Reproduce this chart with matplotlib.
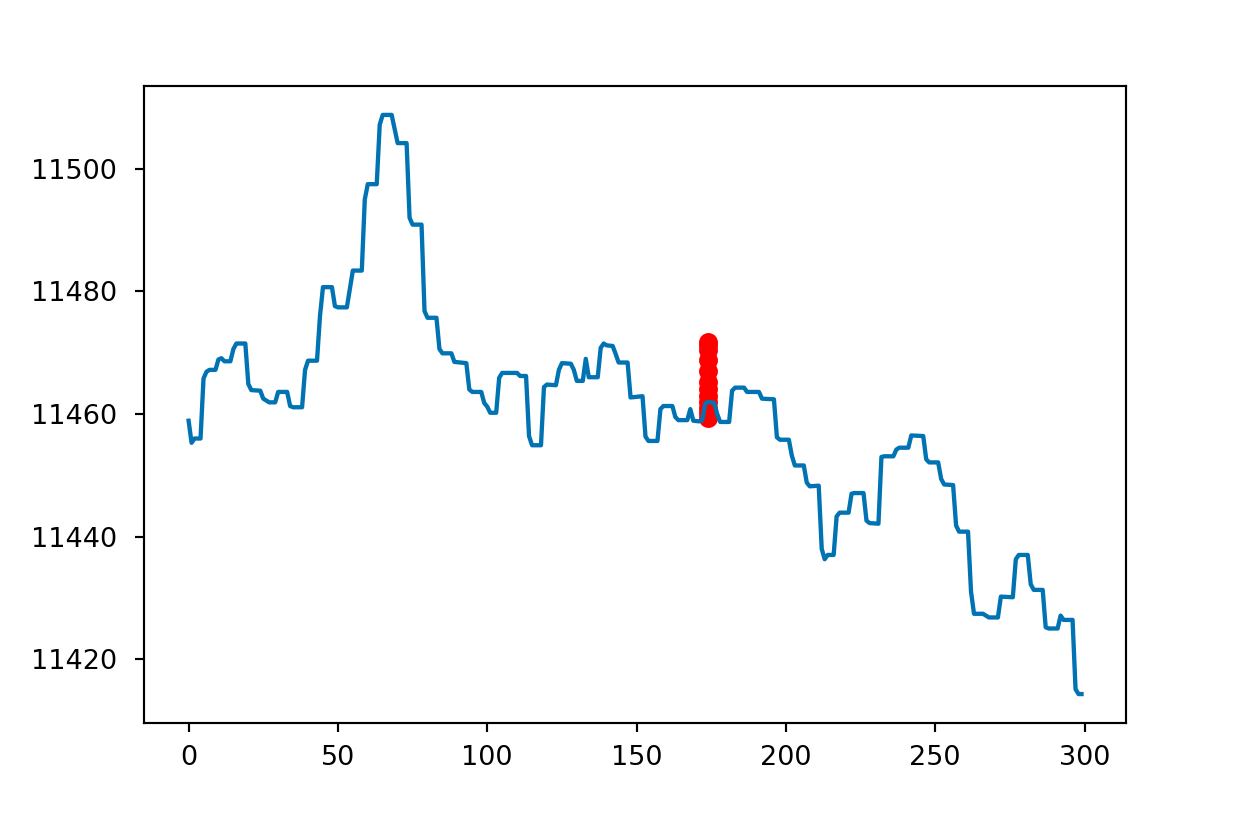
import matplotlib
matplotlib.use('Agg')
import matplotlib.pyplot as plt

# price path, vertices (index, value)
idx = [0, 1, 2, 4, 5, 6, 7, 9, 10, 11, 12, 14, 15, 16, 19, 20, 21, 24, 25, 27,
       29, 30, 33, 34, 35, 38, 39, 40, 43, 44, 45, 48, 49, 50, 53, 55, 58, 59, 60, 63,
       64, 65, 68, 70, 73, 74, 75, 78, 79, 80, 83, 84, 85, 88, 89, 93, 94, 95, 98, 99,
       100, 101, 103, 104, 105, 110, 111, 113, 114, 115, 118, 119, 120, 123, 124, 125, 128, 129, 130, 132,
       133, 134, 137, 138, 139, 140, 142, 143, 144, 147, 148, 152, 153, 154, 157, 158, 159, 162, 163, 164,
       167, 168, 169, 171, 172, 173, 174, 176, 177, 178, 181, 182, 183, 186, 187, 191, 192, 196, 197, 198,
       201, 202, 203, 206, 207, 208, 211, 212, 213, 214, 216, 217, 218, 221, 222, 223, 226, 227, 228, 231,
       232, 233, 236, 237, 238, 241, 242, 246, 247, 248, 251, 252, 253, 256, 257, 258, 261, 262, 263, 266,
       268, 271, 272, 276, 277, 278, 281, 282, 283, 286, 287, 288, 291, 292, 293, 296, 297, 298, 299]
price = [11458.9, 11455.3, 11456.0, 11456.0, 11465.8, 11466.9, 11467.2, 11467.2, 11468.9, 11469.1,
         11468.6, 11468.6, 11470.6, 11471.5, 11471.5, 11464.9, 11463.9, 11463.8, 11462.5, 11461.9,
         11461.9, 11463.6, 11463.6, 11461.3, 11461.1, 11461.1, 11467.2, 11468.7, 11468.7, 11476.0,
         11480.7, 11480.7, 11477.6, 11477.4, 11477.4, 11483.4, 11483.4, 11495.0, 11497.5, 11497.5,
         11507.2, 11508.8, 11508.8, 11504.2, 11504.2, 11492.0, 11490.9, 11490.9, 11476.8, 11475.7,
         11475.7, 11470.6, 11469.9, 11469.9, 11468.5, 11468.3, 11464.0, 11463.6, 11463.6, 11461.8,
         11461.2, 11460.2, 11460.2, 11465.9, 11466.7, 11466.7, 11466.2, 11466.2, 11456.4, 11454.9,
         11454.9, 11464.4, 11464.8, 11464.7, 11467.2, 11468.3, 11468.2, 11467.2, 11465.4, 11465.4,
         11469.0, 11466.0, 11466.0, 11470.8, 11471.5, 11471.2, 11471.1, 11469.8, 11468.4, 11468.4,
         11462.7, 11462.9, 11456.3, 11455.6, 11455.6, 11460.8, 11461.3, 11461.3, 11459.5, 11459.0,
         11459.0, 11460.8, 11458.9, 11458.8, 11459.0, 11461.7, 11462.0, 11461.8, 11460.0, 11458.7,
         11458.7, 11463.8, 11464.3, 11464.3, 11463.6, 11463.6, 11462.5, 11462.4, 11456.2, 11455.8,
         11455.8, 11453.2, 11451.6, 11451.6, 11448.8, 11448.2, 11448.3, 11438.0, 11436.3, 11437.0,
         11437.0, 11443.3, 11443.9, 11443.9, 11447.0, 11447.1, 11447.1, 11442.6, 11442.2, 11442.1,
         11453.0, 11453.1, 11453.1, 11454.2, 11454.5, 11454.5, 11456.5, 11456.4, 11452.6, 11452.1,
         11452.1, 11449.4, 11448.5, 11448.4, 11441.8, 11440.8, 11440.8, 11431.0, 11427.4, 11427.4,
         11426.8, 11426.8, 11430.2, 11430.1, 11436.3, 11437.0, 11437.0, 11432.2, 11431.3, 11431.3,
         11425.2, 11425.0, 11425.0, 11427.1, 11426.4, 11426.4, 11415.1, 11414.3, 11414.3]

# red markers at one index
sig_idx = 174
sig_vals = [11459.3, 11460.2, 11461.0, 11462.0, 11463.0, 11464.0,
            11465.3, 11467.0, 11468.8, 11470.5, 11471.3, 11471.8]

fig = plt.figure(figsize=(6.4, 4.2478), dpi=194.22)
ax = fig.add_subplot(111)
fig.subplots_adjust(left=0.1158, right=0.906, top=0.8958, bottom=0.1236)

ax.scatter([sig_idx] * len(sig_vals), sig_vals, c='red')
ax.plot(idx, price, color='#0173b2', linewidth=1.6)
ax.tick_params(axis='y', pad=6.5)
ax.tick_params(axis='x', pad=4.6)

fig.savefig('out.png', dpi=194.22)
